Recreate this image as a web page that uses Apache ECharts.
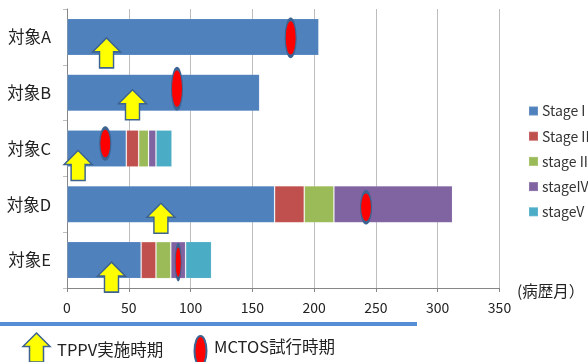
<!DOCTYPE html>
<html>
<head>
<meta charset="utf-8">
<style>html,body{margin:0;padding:0;background:#fff;overflow:hidden}#c{width:588px;height:362px}</style>
<script src="https://cdn.jsdelivr.net/npm/echarts@6/dist/echarts.min.js"></script>
</head>
<body>
<div id="c"></div>
<script>
// Disease course per subject, in months spent at each stage
const subjects = ['対象A', '対象B', '対象C', '対象D', '対象E'];
const stageNames = ['Stage I', 'Stage II', 'stage III', 'stageIV', 'stageV'];
const stageI = [204, 156, 48, 168, 60];
const stageII = [0, 0, 10, 24, 12];
const stageIII = [0, 0, 8, 24, 12];
const stageIV = [0, 0, 6, 96, 12];
const stageV = [0, 0, 13, 0, 21];
const stageColors = ['#4f81bd', '#c0504d', '#9bbb59', '#8064a2', '#4bacc6'];

// Month of each event
const tppvMonths = [32, 53, 9, 76, 36];
const mctosMonths = [181, 89, 31, 242, 90];

const FONT = '"Noto Sans CJK JP", "Noto Sans", sans-serif';
const OUTLINE = '#3d6391';
const ARROW = 'path://M14 0 L28 14 L21 14 L21 30 L7 30 L7 14 L0 14 Z';

// Vertical shift of the event markers from the middle of each row
const arrowDrop = [16, 12, 17, 14, 17];
const ovalDrop = [1, -4, -5, 3, 2];
const ovalSizes = [[11, 37], [11, 40], [11, 31], [11, 31], [6, 34]];

const stageValues = [stageI, stageII, stageIII, stageIV, stageV];
const barSeries = stageNames.map((name, i) => ({
  name, type: 'bar', stack: 'course', barWidth: 37,
  data: stageValues[i],
  itemStyle: { color: stageColors[i], borderColor: 'rgba(255,255,255,0.12)', borderWidth: 1 },
  z: 2
}));

const chart = echarts.init(document.getElementById('c'), null, { renderer: 'canvas' });
chart.setOption({
  animation: false,
  textStyle: { fontFamily: FONT },
  legend: {
    orient: 'vertical', left: 528, top: 103, padding: 0, itemWidth: 9, itemHeight: 9, itemGap: 9.2,
    icon: 'rect', data: stageNames,
    textStyle: { fontFamily: FONT, fontSize: 14, color: '#333', lineHeight: 16, padding: [0, 0, 0, -1] }
  },
  grid: { left: 67, top: 9, width: 432.5, height: 279, containLabel: false },
  xAxis: {
    type: 'value', min: 0, max: 350, interval: 50,
    axisLine: { show: true, lineStyle: { color: '#868686' } },
    axisTick: { show: true, length: 4, lineStyle: { color: '#868686' } },
    axisLabel: { fontFamily: FONT, fontSize: 14, color: '#222', margin: 13 },
    splitLine: { show: true, lineStyle: { color: '#bdbdbd', width: 1 } }
  },
  yAxis: {
    type: 'category', inverse: true, data: subjects,
    axisLine: { show: true, onZero: false, lineStyle: { color: '#868686' } },
    axisTick: { show: true, length: 4, lineStyle: { color: '#bdbdbd' } },
    axisLabel: { fontFamily: FONT, fontSize: 16.5, color: '#222', margin: 16 }
  },
  series: barSeries.concat([
    {
      type: 'scatter', clip: false, z: 5, silent: true,
      data: tppvMonths.map((m, i) => ({
        value: [m, subjects[i]], symbol: ARROW, symbolSize: [28, 30], symbolOffset: [0, arrowDrop[i]]
      })),
      itemStyle: { color: '#ffff00', borderColor: OUTLINE, borderWidth: 1.5, opacity: 1 }
    },
    {
      type: 'scatter', clip: false, z: 6, silent: true,
      data: mctosMonths.map((m, i) => ({
        value: [m, subjects[i]], symbol: 'circle', symbolSize: ovalSizes[i], symbolOffset: [0, ovalDrop[i]]
      })),
      itemStyle: { color: '#ff0000', borderColor: OUTLINE, borderWidth: 2, opacity: 1 }
    }
  ]),
  graphic: [
    { type: 'text', left: 517, top: 283, style: { text: '(病歴月）', font: '15.5px ' + FONT, fill: '#222' } },
    { type: 'rect', shape: { x: 0, y: 322, width: 417, height: 4 }, style: { fill: '#558ed5' } },
    {
      type: 'polygon',
      shape: { points: [[36.5, 333], [50, 346.5], [43.5, 346.5], [43.5, 362], [29.5, 362], [29.5, 346.5], [23, 346.5]] },
      style: { fill: '#ffff00', stroke: OUTLINE, lineWidth: 1.5 }
    },
    { type: 'text', left: 57, top: 341, style: { text: 'TPPV実施時期', font: '16.5px ' + FONT, fill: '#222' } },
    {
      type: 'ellipse', shape: { cx: 200.5, cy: 351, rx: 6, ry: 15 },
      style: { fill: '#ff0000', stroke: OUTLINE, lineWidth: 2 }
    },
    { type: 'text', left: 214, top: 338, style: { text: 'MCTOS試行時期', font: '16.5px ' + FONT, fill: '#222' } }
  ]
});
</script>
</body>
</html>
